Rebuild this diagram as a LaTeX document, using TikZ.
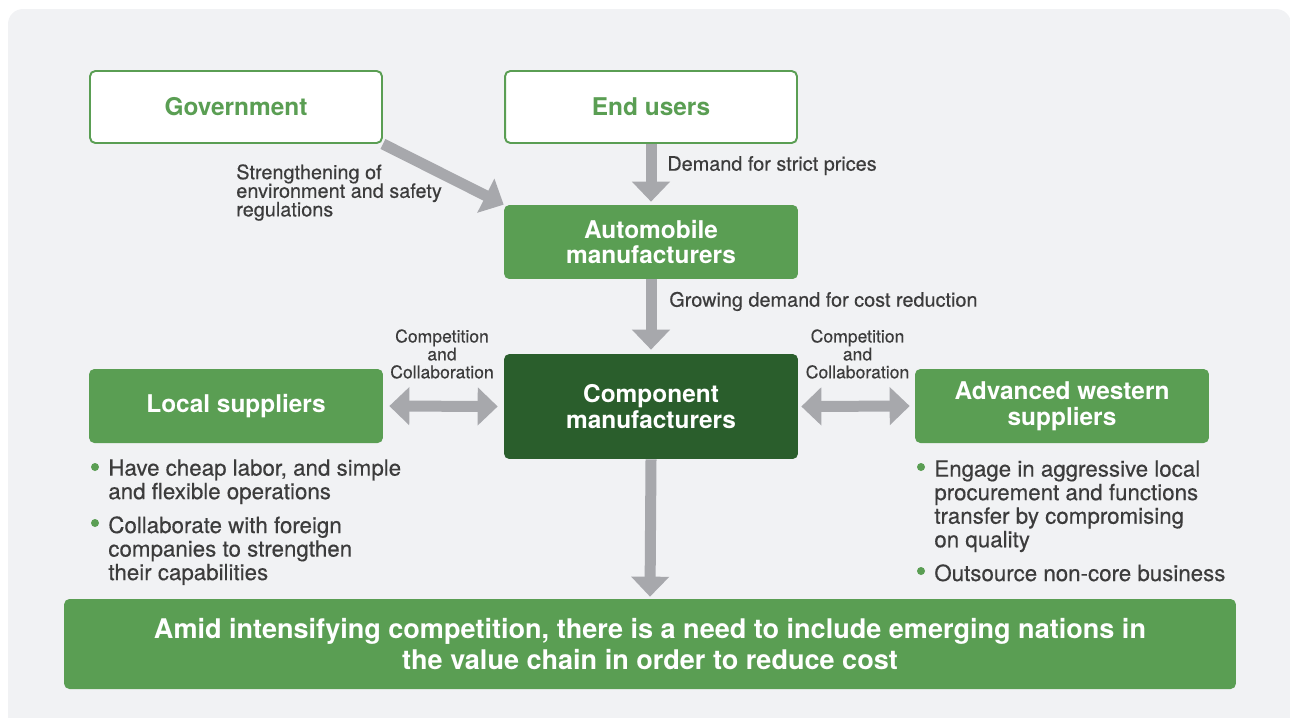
\documentclass[tikz,border=0pt]{standalone}
\usepackage{fontspec}
\setmainfont{TeX Gyre Heros}
\newfontfamily\mediumfont{TeX Gyre Heros}[FakeBold=0.35]
\usetikzlibrary{arrows.meta}
\usetikzlibrary{backgrounds}
\definecolor{leafgreen}{HTML}{5A9E53}
\definecolor{darkgreen}{HTML}{2A5E2C}
\definecolor{panelgray}{HTML}{F1F2F4}
\definecolor{arrowgray}{HTML}{A7A8AC}
\definecolor{textgray}{HTML}{3C3C3C}
\newcommand\tightlines{\setlength{\lineskiplimit}{-6pt}}
\tikzset{>={Triangle[length=0.4cm,width=0.74cm]}}

\begin{document}
\begin{tikzpicture}[x=0.02cm, y=-0.02cm,
  whitebox/.style={draw=leafgreen, line width=1.1pt, fill=white, rounded corners=3pt,
    minimum width=5.84cm, minimum height=1.44cm, text=leafgreen,
    font=\fontsize{13.9}{14.7}\selectfont\bfseries},
  greenbox/.style={fill=leafgreen, rounded corners=3pt, minimum width=5.88cm,
    minimum height=1.48cm, text=white, align=center,
    font=\fontsize{13.9}{14.7}\selectfont\bfseries},
  bigarrow/.style={->, arrowgray, line width=0.22cm},
  twoarrow/.style={<->, arrowgray, line width=0.22cm},
  note/.style={text=textgray, inner sep=0pt, align=left,
    font=\mediumfont\fontsize{11.3}{10.6}\selectfont\tightlines},
  smallnote/.style={text=textgray, inner sep=0pt, align=center, anchor=north,
    font=\mediumfont\fontsize{10}{10.2}\selectfont\tightlines},
  pointtext/.style={text=textgray, inner sep=0pt, align=left, anchor=north west,
    font=\mediumfont\fontsize{12.7}{13.4}\selectfont\tightlines}]

\useasboundingbox (0,0) rectangle (1290,717);

\node[whitebox] (gov) at (236,107) {Government};
\node[whitebox] (users) at (651,107) {End users};
\node[greenbox] (auto) at (651,242) {Automobile\\manufacturers};
\node[greenbox, fill=darkgreen, minimum height=2.1cm] (comp) at (651,406.5) {Component\\manufacturers};
\node[greenbox] (local) at (236,406) {Local suppliers};
\node[greenbox] (western) at (1062,406) {Advanced western\\suppliers};
\node[greenbox, minimum width=23.44cm, minimum height=1.8cm,
  font=\fontsize{15.4}{17.6}\selectfont\bfseries] (goal) at (650,644)
  {Amid intensifying competition, there is a need to include emerging nations in\\the value chain in order to reduce cost};

\node[note, anchor=north west] (regtext) at (236,164) {Strengthening of\\environment and safety\\regulations};
\node[note, anchor=base west] (demandtext) at (667,170.7) {Demand for strict prices};
\node[note, anchor=base west] (costtext) at (669,306.7) {Growing demand for cost reduction};
\node[smallnote] (leftcc) at (442,329) {Competition\\and\\Collaboration};
\node[smallnote] (rightcc) at (857.5,329) {Competition\\and\\Collaboration};

\node[pointtext] (local1) at (108,459) {Have cheap labor, and simple\\and flexible operations};
\node[pointtext] (local2) at (108,516) {Collaborate with foreign\\companies to strengthen\\their capabilities};
\node[pointtext] (western1) at (934,460) {Engage in aggressive local\\procurement and functions\\transfer by compromising\\on quality};
\node[pointtext] (western2) at (934,564) {Outsource non-core business};

\fill[leafgreen] (95,467) circle (0.08cm);
\fill[leafgreen] (95,523) circle (0.08cm);
\fill[leafgreen] (921,467) circle (0.08cm);
\fill[leafgreen] (921,571) circle (0.08cm);

\begin{scope}[on background layer]
\fill[panelgray, rounded corners=0.3cm] (8,9) rectangle (1291,760);
\draw[bigarrow] (gov.south east) -- (auto.north west);
\draw[bigarrow, shorten >=0.06cm] (users.south) -- (auto.north);
\draw[bigarrow, shorten >=0.08cm] (auto.south) -- (comp.north);
\draw[bigarrow, shorten >=0.04cm] (comp.south) -- (goal.north);
\draw[twoarrow, shorten <=0.12cm, shorten >=0.12cm] (local.east) -- (comp.west);
\draw[twoarrow, shorten <=0.06cm, shorten >=0.1cm] (comp.east) -- (western.west);
\end{scope}

\end{tikzpicture}
\end{document}
